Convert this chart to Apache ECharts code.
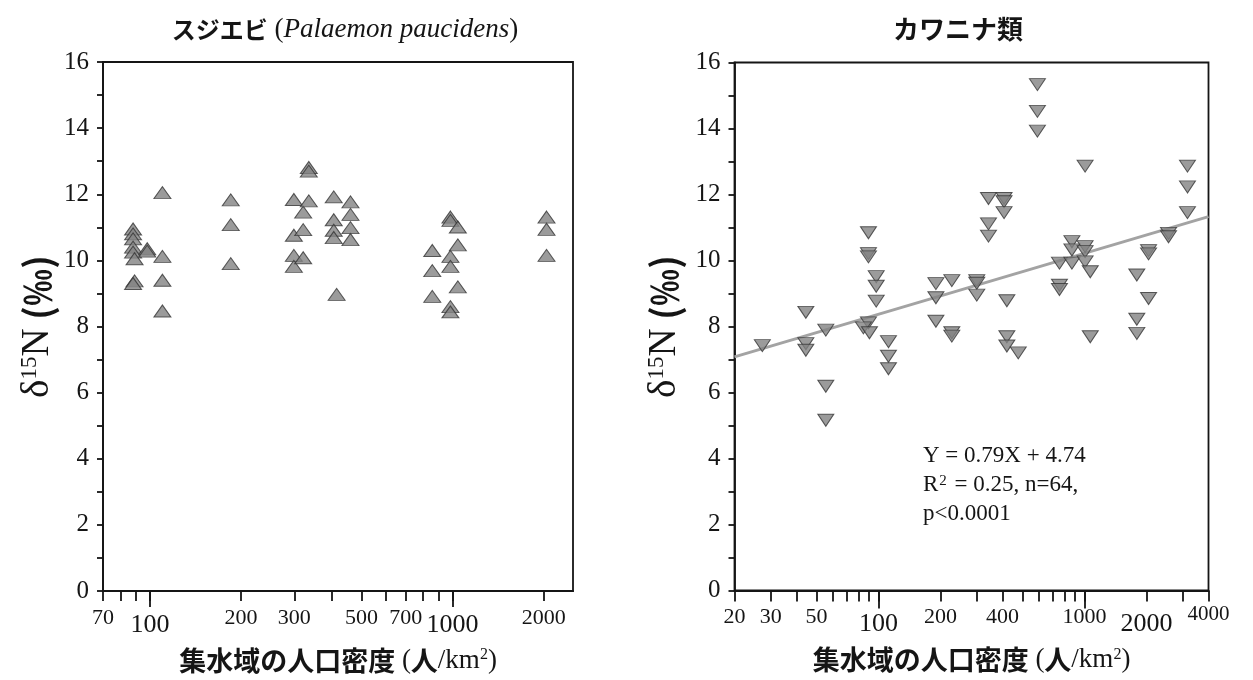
<!DOCTYPE html>
<html><head><meta charset="utf-8">
<script src="https://cdn.jsdelivr.net/npm/echarts@6/dist/echarts.min.js"></script>
<style>html,body{margin:0;padding:0;background:#fff}#c{width:1253px;height:680px}</style>
</head><body><div id="c"></div>
<script>
// ---- Data (population density of catchment, δ15N) ----
const shrimpDensity = [88,88,88,88,88,89,89,88, 98,98, 110,110,110,110, 185,185,185,
  299,299,299,299, 321,321,321, 335,335,335, 405,405,405,405, 460,460,460,460, 414,
  857,857,857, 984,984,984,984,984,984, 1041,1041,1041, 2044,2044,2044];
const shrimpD15N = [10.95,10.8,10.65,10.4,10.25,10.05,9.38,9.3, 10.35,10.28, 12.05,10.12,9.4,8.47, 11.83,11.08,9.9,
  11.84,10.76,10.15,9.82, 11.46,10.93,10.08, 12.81,12.70,11.80, 11.92,11.23,10.91,10.69, 11.77,11.39,10.99,10.63, 8.97,
  10.30,9.69,8.91, 11.31,11.21,10.12,9.82,8.6,8.44, 11.01,10.47,9.2, 11.31,10.94,10.15];

const snailDensity = [27.3, 44.4,44.4,44.4, 55.5,55.5,55.5, 89.4,89.4,89.4,89.4, 84.5, 90.4, 97.5,97.5,97.5,
  111.8,111.8,111.8, 190,190,190, 227,227,227, 300,300,300, 342,342,342, 407,407,407, 420,420,420, 477,
  591,591,591, 756,756,756, 869,869,869, 1007,1007,1007,1007, 1067,1067, 1795,1795,1795, 2047,2047,2047,
  2559,2559, 3162,3162,3162];
const snailD15N = [7.42, 8.43,7.48,7.28, 7.89,6.19,5.16, 10.84,10.21,10.11,8.11, 7.96, 7.81, 9.51,9.22,8.77,
  7.54,7.10,6.72, 9.30,8.87,8.16, 9.39,7.81,7.71, 9.39,9.31,8.95, 11.88,11.11,10.74, 11.88,11.78,11.45, 8.78,7.69,7.41, 7.2,
  15.33,14.52,13.92, 9.92,9.25,9.12, 10.57,10.32,9.92, 12.86,10.42,10.27,9.96, 9.66,7.69, 9.56,8.22,7.79, 10.3,10.2,8.85,
  10.82,10.72, 12.86,12.23,11.45];

// regression line endpoints
const fitDensity = [20, 4000];
const fitD15N = [7.08, 11.33];

// ---- Axes ----
const leftXRange = [70, 2500];
const rightXRange = [20, 4000];
const leftTicks = [70,80,90,100,200,300,400,500,600,700,800,900,1000,2000];
const leftLabels = [70,100,200,300,500,700,1000,2000];
const leftBigLabels = [100,1000];
const leftLongTicks = [100,1000];
const rightTicks = [20,30,40,50,60,70,80,90,100,200,300,400,500,600,700,800,900,1000,2000,3000,4000];
const rightLabels = [20,30,50,100,200,400,1000,2000,4000];
const rightBigLabels = [100,2000];
const rightRaisedLabels = [4000];
const rightLongTicks = [100,1000];

const lg = Math.log10;
const SERIF = '"Liberation Serif","DejaVu Serif",serif';
const JP = '"Noto Sans CJK JP","Noto Sans",sans-serif';
const INK = '#151515';

function labelFmt(big, raised) {
  return function (v) {
    const real = Math.round(Math.pow(10, v));
    if (big.indexOf(real) >= 0) return '{b|' + real + '}';
    if (raised && raised.indexOf(real) >= 0) return '{t|' + real + '}';
    return '{s|' + real + '}';
  };
}
const labelRich = {
  s: {fontFamily: SERIF, fontSize: 22, color: INK, padding: [3, 0, 0, 0]},
  b: {fontFamily: SERIF, fontSize: 26, color: INK, padding: [8, 0, 0, 0]},
  t: {fontFamily: SERIF, fontSize: 21, color: INK, padding: [0, 0, 0, 0]}
};
const xName = '{j|集水域の人口密度}{p| (}{j|人}{p|/km}{sup|2}{p|)}';
const xNameStyle = {
  rich: {
    j: {fontFamily: JP, fontWeight: 'bold', fontSize: 27, color: INK},
    p: {fontFamily: SERIF, fontSize: 27, color: INK},
    sup: {fontFamily: SERIF, fontSize: 16, lineHeight: 16, color: INK, verticalAlign: 'top'}
  }
};
const yName = '{d|δ}{s|15}{d|N}{p| (‰)}';
const yNameStyle = {
  rich: {
    d: {fontFamily: SERIF, fontSize: 39, color: INK},
    s: {fontFamily: SERIF, fontSize: 23, lineHeight: 23, color: INK, verticalAlign: 'top'},
    p: {fontFamily: JP, fontWeight: 'bold', fontSize: 37, color: INK}
  }
};
const lineStyle = {color: INK, width: 1.8};

function mainX(gridIndex, range, ticks, labels, big, raised, tickLen) {
  return {
    type: 'value', gridIndex: gridIndex, position: 'bottom',
    min: lg(range[0]), max: lg(range[1]),
    axisLine: {show: true, lineStyle: lineStyle},
    axisTick: {show: true, length: tickLen, lineStyle: lineStyle, customValues: ticks.map(lg)},
    axisLabel: {show: true, margin: 13, customValues: labels.map(lg), formatter: labelFmt(big, raised), rich: labelRich},
    splitLine: {show: false},
    name: xName, nameLocation: 'middle', nameGap: 56, nameTextStyle: xNameStyle
  };
}
function longX(gridIndex, range, ticks, tickLen) {
  return {
    type: 'value', gridIndex: gridIndex, position: 'bottom',
    min: lg(range[0]), max: lg(range[1]),
    axisLine: {show: false},
    axisTick: {show: true, length: tickLen, lineStyle: lineStyle, customValues: ticks.map(lg)},
    axisLabel: {show: false},
    splitLine: {show: false}
  };
}
function mainY(gridIndex, gap) {
  return {
    type: 'value', gridIndex: gridIndex, min: 0, max: 16, interval: 2,
    axisLine: {show: true, lineStyle: lineStyle},
    axisTick: {show: true, length: 6, lineStyle: lineStyle},
    minorTick: {show: true, splitNumber: 2, length: 6, lineStyle: lineStyle},
    axisLabel: {show: true, margin: 14, fontFamily: SERIF, fontSize: 25, color: INK},
    splitLine: {show: false}, minorSplitLine: {show: false},
    name: yName, nameLocation: 'middle', nameRotate: 90, nameGap: gap, nameTextStyle: yNameStyle
  };
}

const markerStyle = {color: '#828282', borderColor: '#353535', borderWidth: 1};

const option = {
  animation: false,
  backgroundColor: '#ffffff',
  title: [
    {left: 340, top: 11, textAlign: 'center',
     text: '{a|スジエビ}{b| (}{c|Palaemon paucidens}{b|)}',
     textStyle: {rich: {
       a: {fontFamily: JP, fontWeight: 'bold', fontSize: 24, color: INK},
       b: {fontFamily: SERIF, fontWeight: 'normal', fontSize: 27, color: INK},
       c: {fontFamily: SERIF, fontWeight: 'normal', fontStyle: 'italic', fontSize: 27, color: INK}
     }}},
    {left: 953, top: 11, textAlign: 'center', text: 'カワニナ類',
     textStyle: {fontFamily: JP, fontWeight: 'bold', fontSize: 26, color: INK}}
  ],
  grid: [
    {left: 103, top: 62, width: 470, height: 529, show: true, borderColor: INK, borderWidth: 1.8, backgroundColor: 'transparent'},
    {left: 734.5, top: 62.5, width: 474, height: 528, show: true, borderColor: INK, borderWidth: 1.8, backgroundColor: 'transparent'}
  ],
  xAxis: [
    mainX(0, leftXRange, leftTicks, leftLabels, leftBigLabels, null, 10),
    mainX(1, rightXRange, rightTicks, rightLabels, rightBigLabels, rightRaisedLabels, 11),
    longX(0, leftXRange, leftLongTicks, 16),
    longX(1, rightXRange, rightLongTicks, 18)
  ],
  yAxis: [mainY(0, 46), mainY(1, 50)],
  graphic: [{
    type: 'text', left: 923, top: 444,
    style: {
      text: '{r|Y = 0.79X + 4.74}\n{r|R}{sup|2}{r| = 0.25, n=64,}\n{r|p<0.0001}',
      rich: {
        r: {fontFamily: SERIF, fontSize: 23, lineHeight: 29, fill: INK},
        sup: {fontFamily: SERIF, fontSize: 15, lineHeight: 15, fill: INK, verticalAlign: 'top', padding: [4, 2, 0, 1]}
      }
    }
  }],
  series: [
    {type: 'scatter', xAxisIndex: 0, yAxisIndex: 0, symbol: 'triangle', symbolSize: [17, 12],
     itemStyle: markerStyle, z: 3,
     data: shrimpDensity.map((d, i) => [lg(d), shrimpD15N[i]])},
    {type: 'line', xAxisIndex: 1, yAxisIndex: 1, showSymbol: false, symbol: 'none', z: 2,
     lineStyle: {color: '#a3a3a3', width: 3},
     data: fitDensity.map((d, i) => [lg(d), fitD15N[i]])},
    {type: 'scatter', xAxisIndex: 1, yAxisIndex: 1, symbol: 'triangle', symbolRotate: 180, symbolSize: [16, 12],
     itemStyle: markerStyle, z: 3,
     data: snailDensity.map((d, i) => [lg(d), snailD15N[i]])}
  ]
};
const chart = echarts.init(document.getElementById('c'), null, {renderer: 'canvas'});
chart.setOption(option);
</script></body></html>
